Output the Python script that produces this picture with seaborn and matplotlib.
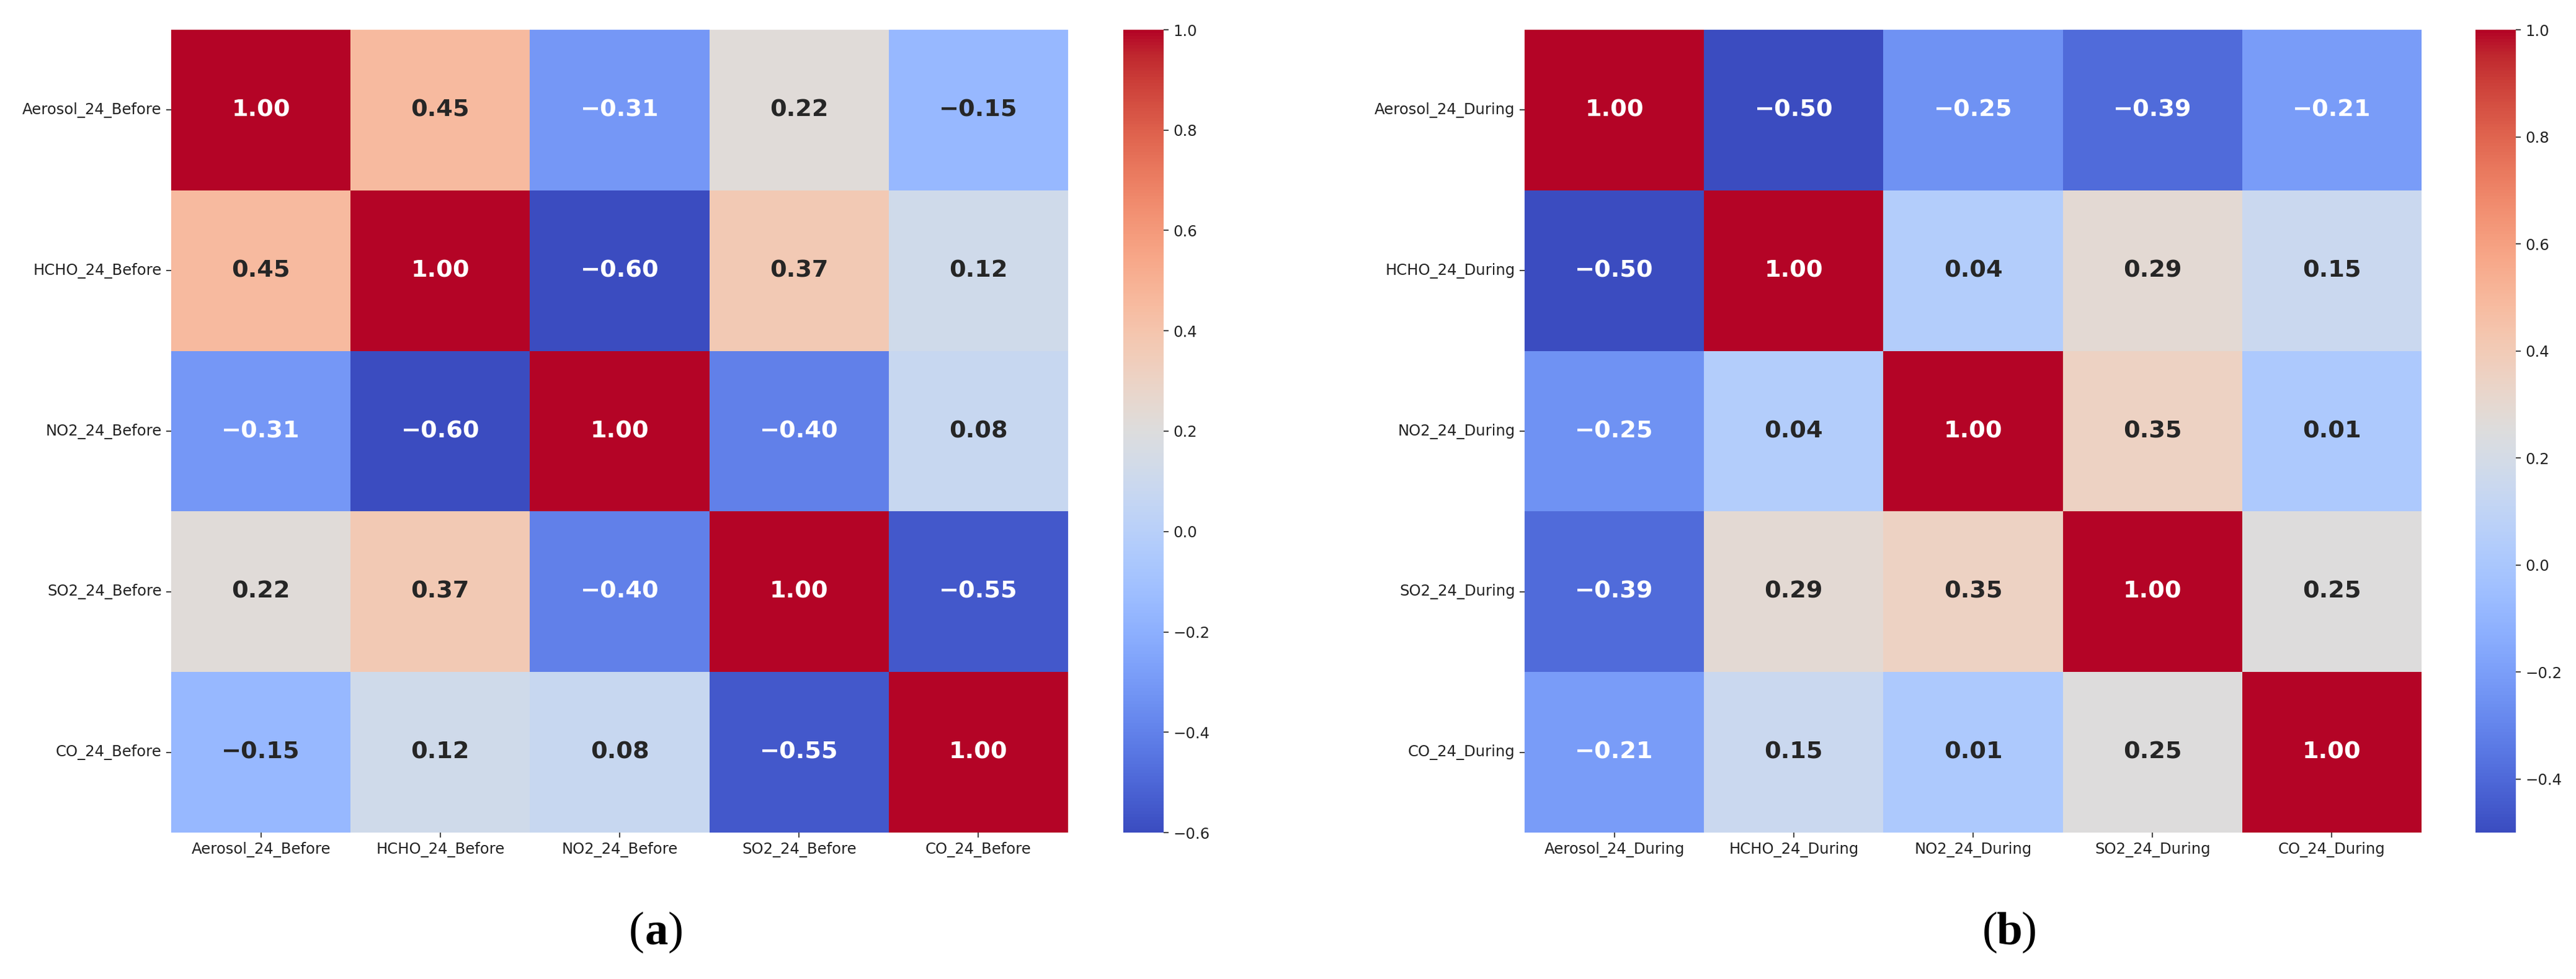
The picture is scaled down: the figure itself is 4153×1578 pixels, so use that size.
import numpy as np
import pandas as pd
import matplotlib
matplotlib.use("Agg")
import matplotlib.pyplot as plt
import seaborn as sns

vars_before = ["Aerosol_24_Before", "HCHO_24_Before", "NO2_24_Before", "SO2_24_Before", "CO_24_Before"]
vars_during = ["Aerosol_24_During", "HCHO_24_During", "NO2_24_During", "SO2_24_During", "CO_24_During"]

corr_before = [
    [1.00, 0.45, -0.31, 0.22, -0.15],
    [0.45, 1.00, -0.60, 0.37, 0.12],
    [-0.31, -0.60, 1.00, -0.40, 0.08],
    [0.22, 0.37, -0.40, 1.00, -0.55],
    [-0.15, 0.12, 0.08, -0.55, 1.00],
]
corr_during = [
    [1.00, -0.50, -0.25, -0.39, -0.21],
    [-0.50, 1.00, 0.04, 0.29, 0.15],
    [-0.25, 0.04, 1.00, 0.35, 0.01],
    [-0.39, 0.29, 0.35, 1.00, 0.25],
    [-0.21, 0.15, 0.01, 0.25, 1.00],
]
panel_labels = ["a", "b"]

plt.rcParams['font.family'] = ['DejaVu Sans']
W, H = 4153, 1578
fig = plt.figure(figsize=(W / 100, H / 100), dpi=100)

def fx(px):
    return px / W

def fy(px):
    return px / H

hm_w = 1446
hm_h = 1294
cb_w = 65
bottom_px = H - 1342

layouts = [
    (276, 1811),
    (2458, 3991),
]
serif = ["Liberation Serif", "DejaVu Serif"]

for (mat, names, (hx, cx), lab) in zip([corr_before, corr_during], [vars_before, vars_during], layouts, panel_labels):
    df = pd.DataFrame(mat, index=names, columns=names)
    annot = df.map(lambda v: f"{v:.2f}".replace("-", "\u2212"))
    ax = fig.add_axes([fx(hx), fy(bottom_px), fx(hm_w), fy(hm_h)])
    cax = fig.add_axes([fx(cx), fy(bottom_px), fx(cb_w), fy(hm_h)])
    sns.heatmap(df, ax=ax, cbar_ax=cax, cmap="coolwarm", annot=annot.values, fmt="",
                annot_kws={"fontsize": 27.5, "fontweight": "bold"})
    ax.tick_params(axis="both", labelsize=17.5, length=6, width=1.2, pad=5, colors="#222222")
    ax.set_xticklabels(names, rotation=0)
    ax.set_yticklabels(names, rotation=0)
    ax.set_xlabel("")
    ax.set_ylabel("")
    cax.tick_params(labelsize=17.5, length=6, width=1.2, pad=5, colors="#222222")
    center_x = hx + 782
    ly = fy(H - 1503)
    fig.text(fx(center_x - 19), ly, "(", ha="right", va="center", fontsize=54, family=serif)
    fig.text(fx(center_x), ly, lab, ha="center", va="center", fontsize=54, fontweight="bold", family=serif)
    fig.text(fx(center_x + 19), ly, ")", ha="left", va="center", fontsize=54, family=serif)

fig.savefig("out.png", dpi=100, facecolor="white")
